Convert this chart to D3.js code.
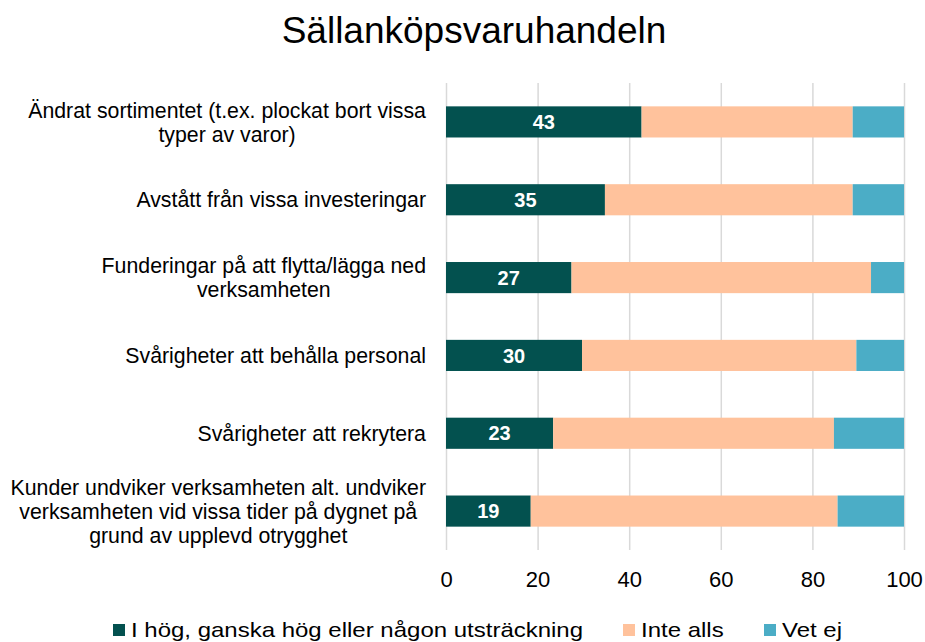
<!DOCTYPE html>
<html>
<head>
<meta charset="utf-8">
<script src="https://cdn.jsdelivr.net/npm/d3@7"></script>
<style>
	body { margin: 0; background: #ffffff; }
	text { font-family: "Liberation Sans", Arial, sans-serif; fill: #000000; }
	.grid line { stroke: #d9d9d9; stroke-width: 1.5; }
	.grid path { display: none; }
	.axis path, .axis line { display: none; }
</style>
</head>
<body>
<div id="chart"></div>
<script>

var chart_title = "Sällanköpsvaruhandeln";

// category labels, one entry per line of the label
var categories = [
	["Ändrat sortimentet (t.ex. plockat bort vissa", "typer av varor)"],
	["Avstått från vissa investeringar"],
	["Funderingar på att flytta/lägga ned", "verksamheten"],
	["Svårigheter att behålla personal"],
	["Svårigheter att rekrytera"],
	["Kunder undviker verksamheten alt. undviker", "verksamheten vid vissa tider på dygnet på", "grund av upplevd otrygghet"]
];

var series_names = ["I hög, ganska hög eller någon utsträckning", "Inte alls", "Vet ej"];
var series_colors = ["#03514f", "#ffc29c", "#4badc6"];

// values (percent)
var hog_values = [42.7, 34.7, 27.4, 29.7, 23.4, 18.5];
var inte_values = [46.1, 54.1, 65.4, 59.9, 61.3, 67.0];
var vetej_values = [11.2, 11.2, 7.2, 10.4, 15.3, 14.5];

var x_ticks = [0, 20, 40, 60, 80, 100];


function draw_chart(){
	var width = 925, height = 642;
	var margin = {top: 83, right: 21, bottom: 92, left: 446};
	var inner_w = width - margin.left - margin.right;
	var inner_h = height - margin.top - margin.bottom;

	var svg = d3.select("#chart")
				.append("svg")
				.attr("width", width)
				.attr("height", height);

	// title
	svg.append("text")
		.attr("x", 474)
		.attr("y", 43)
		.attr("text-anchor", "middle")
		.style("font-size", "37px")
		.text(chart_title);

	var g = svg.append("g")
				.attr("transform", "translate(" + margin.left + "," + margin.top + ")");

	var x = d3.scaleLinear().domain([0, 100]).range([0, inner_w]);
	var y = d3.scaleBand()
				.domain(d3.range(categories.length))
				.range([0, inner_h])
				.paddingInner(0.6)
				.paddingOuter(0.3);

	// vertical gridlines
	g.append("g")
		.attr("class", "grid")
		.attr("transform", "translate(0," + inner_h + ")")
		.call(d3.axisBottom(x).tickValues(x_ticks).tickSize(-inner_h).tickFormat(""));

	// stack the three series
	var rows = categories.map(function(c, i){
		return {idx: i, hog: hog_values[i], inte: inte_values[i], vetej: vetej_values[i]};
	});
	var stack = d3.stack().keys(["hog", "inte", "vetej"]);
	var layers = stack(rows);

	g.selectAll(".layer")
		.data(layers)
		.enter().append("g")
		.attr("class", "layer")
		.attr("fill", function(d, i){ return series_colors[i]; })
		.selectAll("rect")
		.data(function(d){ return d; })
		.enter().append("rect")
		.attr("x", function(d){ return x(d[0]); })
		.attr("y", function(d){ return y(d.data.idx); })
		.attr("width", function(d){ return x(d[1]) - x(d[0]); })
		.attr("height", y.bandwidth());

	// value labels in the dark segment
	g.selectAll(".val")
		.data(rows)
		.enter().append("text")
		.attr("class", "val")
		.attr("x", function(d){ return x(d.hog / 2); })
		.attr("y", function(d){ return y(d.idx) + y.bandwidth() / 2; })
		.attr("dy", "0.36em")
		.attr("text-anchor", "middle")
		.style("font-size", "20px")
		.style("font-weight", "bold")
		.style("fill", "#ffffff")
		.text(function(d){ return d3.format(".0f")(d.hog); });

	// category labels
	var line_h = 24;
	var labels = g.selectAll(".cat")
		.data(categories)
		.enter().append("text")
		.attr("class", "cat")
		.attr("text-anchor", "middle")
		.style("font-size", "21.3px");
	labels.each(function(lines, i){
		var t = d3.select(this);
		var cy = y(i) + y.bandwidth() / 2;
		lines.forEach(function(l, k){
			t.append("tspan")
				.attr("x", 0)
				.attr("y", cy + (k - (lines.length - 1) / 2) * line_h)
				.attr("dy", "0.36em")
				.text(l);
		});
	});
	// right-align the label block, lines centered within it
	labels.each(function(){
		var t = d3.select(this);
		var w = this.getBBox().width;
		t.selectAll("tspan").attr("x", -20 - w / 2);
	});

	// x axis tick labels
	var xa = g.append("g")
		.attr("class", "axis")
		.attr("transform", "translate(0," + inner_h + ")")
		.call(d3.axisBottom(x).tickValues(x_ticks).tickSize(0).tickPadding(21));
	xa.selectAll("text")
		.style("font-size", "22px")
		.style("font-family", "'Liberation Sans', Arial, sans-serif")
		.attr("fill", "#000000");

	// legend
	var legend_x = [113, 623, 764];
	var leg = svg.selectAll(".leg")
		.data(series_names)
		.enter().append("g")
		.attr("class", "leg")
		.attr("transform", function(d, i){ return "translate(" + legend_x[i] + ",624)"; });
	leg.append("rect")
		.attr("width", 12)
		.attr("height", 12)
		.attr("fill", function(d, i){ return series_colors[i]; });
	leg.append("text")
		.attr("transform", "translate(18,13) scale(1.2,1)")
		.style("font-size", "20px")
		.text(function(d){ return d; });
}

window.onload = draw_chart;

</script>
</body>
</html>
